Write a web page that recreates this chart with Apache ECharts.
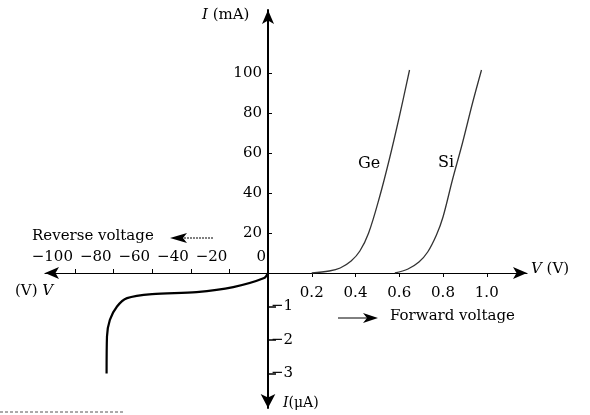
<!DOCTYPE html>
<html><head><meta charset="utf-8">
<script src="https://cdn.jsdelivr.net/npm/echarts@6/dist/echarts.min.js"></script>
<style>html,body{margin:0;padding:0;background:#fff}#c{width:590px;height:415px}</style>
</head><body><div id="c"></div>
<script>
// ---- data ----
const forwardVoltageTicks = [0.2, 0.4, 0.6, 0.8, 1.0];
const forwardCurrentTicks = [20, 40, 60, 80, 100];
const reverseVoltageTicks = [-100, -80, -60, -40, -20, 0];
const reverseCurrentTicks = [-1, -2, -3];

const geVoltage = [0.20, 0.28, 0.33, 0.38, 0.42, 0.46, 0.51, 0.555, 0.60, 0.647];
const geCurrent = [0, 1, 2.5, 6, 11, 20, 38, 57, 78, 101.5];

const siVoltage = [0.58, 0.64, 0.69, 0.73, 0.77, 0.80, 0.843, 0.889, 0.935, 0.976];
const siCurrent = [0, 2, 5.5, 10.5, 19, 28, 46.5, 65, 85, 101.5];

const revVoltage = [0, -2, -18, -37, -60, -73, -78.2, -81.9, -83.4, -83.6];
const revCurrent = [0, -0.15, -0.42, -0.57, -0.63, -0.75, -1.0, -1.4, -1.9, -3.0];

// ---- chart ----
const zip = (a, b) => a.map((v, i) => [v, b[i]]);
const FONT = 'DejaVu Serif';
const INK = '#000';
const minus = v => (v < 0 ? '\u2212' + Math.abs(v) : String(v));

const chart = echarts.init(document.getElementById('c'));
const labelStyle = { fontFamily: FONT, fontSize: 15, color: INK };
const italic = size => ({ i: { fontStyle: 'italic', fontFamily: FONT, fontSize: size, fill: INK } });

chart.setOption({
  animation: false,
  backgroundColor: '#fff',
  grid: [
    { left: 268, top: 10, width: 259, height: 263 },
    { left: 45, top: 273, width: 223, height: 135 }
  ],
  xAxis: [
    {
      gridIndex: 0, type: 'value', min: 0, max: 1.184,
      axisLine: { lineStyle: { color: INK, width: 1.2 }, symbol: ['none', 'arrow'], symbolSize: [9, 14] },
      axisTick: { customValues: forwardVoltageTicks, length: 4, lineStyle: { color: INK } },
      axisLabel: Object.assign({ customValues: forwardVoltageTicks, margin: 13, formatter: v => v.toFixed(1) }, labelStyle),
      splitLine: { show: false }
    },
    {
      gridIndex: 1, type: 'value', min: -115.5, max: 0, position: 'top',
      axisLine: { lineStyle: { color: INK, width: 1.2 }, symbol: ['arrow', 'none'], symbolSize: [9, 14] },
      axisTick: { customValues: reverseVoltageTicks, length: 4, lineStyle: { color: INK } },
      axisLabel: Object.assign({ customValues: reverseVoltageTicks, margin: 8, align: 'right',
        padding: [0, 2, 0, 0], formatter: minus }, labelStyle),
      splitLine: { show: false }
    }
  ],
  yAxis: [
    {
      gridIndex: 0, type: 'value', min: 0, max: 131.5,
      axisLine: { lineStyle: { color: INK, width: 2 }, symbol: ['none', 'arrow'], symbolSize: [9, 14] },
      axisTick: { customValues: forwardCurrentTicks, inside: true, length: 4, lineStyle: { color: INK } },
      axisLabel: Object.assign({ customValues: forwardCurrentTicks, margin: 6 }, labelStyle),
      splitLine: { show: false }
    },
    {
      gridIndex: 1, type: 'value', min: -4.03, max: 0, position: 'right',
      axisLine: { lineStyle: { color: INK, width: 2 }, symbol: ['arrow', 'none'], symbolSize: [11, 14] },
      axisTick: { customValues: reverseCurrentTicks, length: 8, lineStyle: { color: INK, width: 1.5 } },
      axisLabel: Object.assign({ customValues: reverseCurrentTicks, margin: 3, formatter: minus }, labelStyle),
      splitLine: { show: false }
    }
  ],
  series: [
    { name: 'Ge', type: 'line', xAxisIndex: 0, yAxisIndex: 0, data: zip(geVoltage, geCurrent),
      smooth: 0.35, showSymbol: false, lineStyle: { color: '#333', width: 1.3 } },
    { name: 'Si', type: 'line', xAxisIndex: 0, yAxisIndex: 0, data: zip(siVoltage, siCurrent),
      smooth: 0.35, showSymbol: false, lineStyle: { color: '#333', width: 1.3 } },
    { name: 'Reverse', type: 'line', xAxisIndex: 1, yAxisIndex: 1, data: zip(revVoltage, revCurrent),
      smooth: 0.3, showSymbol: false, lineStyle: { color: INK, width: 2.2 } }
  ],
  graphic: [
    { type: 'text', left: 202, top: 8, style: { text: '{i|I} (mA)', font: '15px ' + FONT, fill: INK, rich: italic(15) } },
    { type: 'text', left: 283, top: 396, style: { text: '{i|I}(\u03bcA)', font: '14px ' + FONT, fill: INK, rich: italic(14) } },
    { type: 'text', left: 531, top: 262, style: { text: '{i|V} (V)', font: '15px ' + FONT, fill: INK, rich: italic(15) } },
    { type: 'text', left: 15, top: 284, style: { text: '(V) {i|V}', font: '15px ' + FONT, fill: INK, rich: italic(15) } },
    { type: 'text', left: 32, top: 229, style: { text: 'Reverse voltage', font: '15px ' + FONT, fill: INK } },
    { type: 'line', shape: { x1: 184, y1: 238, x2: 213, y2: 238 }, style: { stroke: INK, lineWidth: 1, lineDash: [2, 1] } },
    { type: 'polygon', shape: { points: [[170, 238], [187, 233], [183, 238], [187, 243]] }, style: { fill: INK } },
    { type: 'text', left: 390, top: 309, style: { text: 'Forward voltage', font: '15px ' + FONT, fill: INK } },
    { type: 'line', shape: { x1: 338, y1: 318, x2: 367, y2: 318 }, style: { stroke: INK, lineWidth: 1 } },
    { type: 'polygon', shape: { points: [[378, 318], [363, 313], [367, 318], [363, 323]] }, style: { fill: INK } },
    { type: 'text', left: 358, top: 156, style: { text: 'Ge', font: '16px ' + FONT, fill: INK } },
    { type: 'text', left: 438, top: 155, style: { text: 'Si', font: '16px ' + FONT, fill: INK } },
    { type: 'line', shape: { x1: 0, y1: 412, x2: 125, y2: 412 }, style: { stroke: '#555', lineWidth: 1, lineDash: [3, 2] } }
  ]
});
</script></body></html>
